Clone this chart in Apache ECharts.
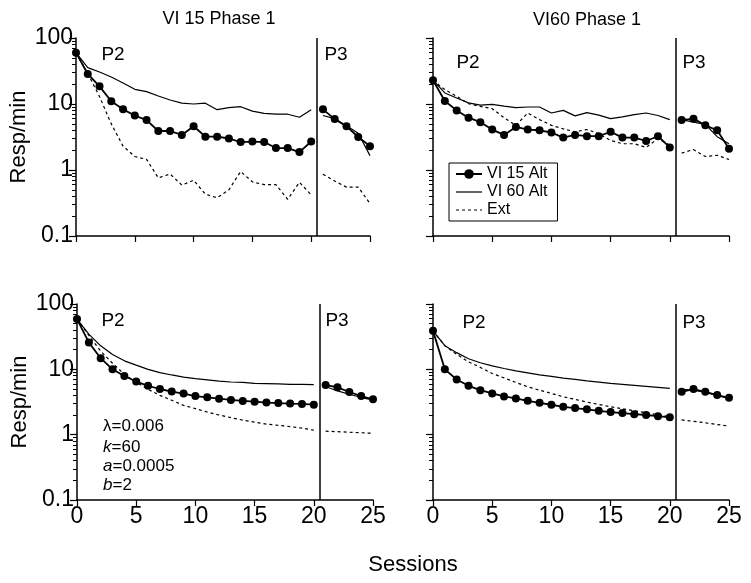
<!DOCTYPE html>
<html>
<head>
<meta charset="utf-8">
<script src="https://cdn.jsdelivr.net/npm/echarts@6/dist/echarts.min.js"></script>
<style>
  html, body { margin: 0; padding: 0; background: #fff; }
  #chart { width: 751px; height: 583px; }
</style>
</head>
<body>
<div id="chart"></div>
<script>
// sessions
var sessionsP2 = [0, 1, 2, 3, 4, 5, 6, 7, 8, 9, 10, 11, 12, 13, 14, 15, 16, 17, 18, 19, 20];
var sessionsP3 = [21, 22, 23, 24, 25];
var phaseBreak = 20.5;
var legendNames = ['VI 15 Alt', 'VI 60 Alt', 'Ext'];
var minorTickValues = [0.2, 0.3, 0.4, 0.5, 0.6, 0.7, 0.8, 0.9, 2, 3, 4, 5, 6, 7, 8, 9, 20, 30, 40, 50, 60, 70, 80, 90];

// VI 15 Phase 1 (observed)
var tlVI15P2 = [60, 28.5, 18.5, 11, 8.3, 6.7, 5.7, 3.9, 3.9, 3.4, 4.6, 3.2, 3.2, 3.0, 2.65, 2.7, 2.65, 2.15, 2.15, 1.87, 2.7];
var tlVI60P2 = [60, 35.6, 30.5, 25.6, 20.8, 16.7, 15.4, 13.2, 11.5, 10.3, 10, 10.3, 8.2, 8.8, 9.1, 7.8, 7.2, 7.0, 7.0, 6.3, 8.2];
var tlExtP2 = [60, 29, 13, 5, 2.3, 1.6, 1.45, 0.76, 0.87, 0.59, 0.7, 0.43, 0.38, 0.5, 0.95, 0.66, 0.6, 0.6, 0.36, 0.65, 0.42];
var tlVI15P3 = [8.3, 5.9, 4.6, 3.16, 2.3];
var tlVI60P3 = [6.7, 6.0, 4.7, 3.6, 1.65];
var tlExtP3 = [0.86, 0.68, 0.55, 0.55, 0.31];

// VI60 Phase 1 (observed)
var trVI15P2 = [22.9, 11.1, 8.0, 6.2, 5.3, 4.1, 3.4, 4.5, 4.1, 4.0, 3.7, 3.1, 3.4, 3.25, 3.25, 3.8, 3.1, 3.1, 2.75, 3.25, 2.2];
var trVI60P2 = [22.9, 14.7, 12.3, 10.4, 9.6, 9.9, 9.3, 8.8, 9.0, 9.0, 7.3, 8.0, 6.6, 7.4, 6.8, 6.0, 6.4, 6.9, 7.3, 6.7, 5.8];
var trExtP2 = [22.9, 16.5, 13.1, 10.1, 9.2, 8.5, 6.2, 4.75, 7.3, 5.8, 4.75, 4.2, 3.8, 4.1, 3.56, 2.8, 2.5, 2.5, 2.2, 3.0, 2.37];
var trVI15P3 = [5.7, 6.0, 4.75, 4.0, 2.1];
var trVI60P3 = [5.8, 5.3, 4.9, 3.2, 2.5];
var trExtP3 = [1.8, 2.04, 1.6, 1.67, 1.44];

// VI 15 model
var blVI15P2 = [58.7, 25.8, 14.8, 10, 7.9, 6.5, 5.6, 5.0, 4.56, 4.25, 3.9, 3.73, 3.56, 3.4, 3.28, 3.2, 3.1, 3.05, 2.99, 2.95, 2.88];
var blVI60P2 = [58.7, 34.5, 22.9, 16.9, 13.5, 11.6, 10.0, 8.9, 8.2, 7.6, 7.2, 6.9, 6.6, 6.4, 6.3, 6.1, 6.05, 5.97, 5.9, 5.9, 5.85];
var blExtP2 = [58.7, 33, 19, 12.4, 8.4, 6.3, 4.95, 4.0, 3.36, 2.81, 2.5, 2.22, 2.0, 1.82, 1.67, 1.56, 1.45, 1.39, 1.33, 1.26, 1.17];
var blVI15P3 = [5.77, 5.3, 4.5, 3.9, 3.48];
var blVI60P3 = [5.45, 4.67, 4.15, 3.7, 3.4];
var blExtP3 = [1.13, 1.11, 1.09, 1.07, 1.05];

// VI60 model
var brVI15P2 = [38.8, 10.0, 7.0, 5.6, 4.8, 4.28, 3.85, 3.59, 3.3, 3.07, 2.87, 2.67, 2.55, 2.44, 2.32, 2.22, 2.14, 2.06, 2.0, 1.92, 1.84];
var brVI60P2 = [38.8, 23, 18, 14.5, 12.6, 11.3, 10.3, 9.5, 8.85, 8.2, 7.8, 7.33, 7.0, 6.67, 6.37, 6.08, 5.87, 5.67, 5.47, 5.28, 5.1];
var brExtP2 = [38.8, 23, 17, 13, 10.7, 8.65, 7.4, 6.3, 5.4, 4.8, 4.28, 3.8, 3.47, 3.15, 2.9, 2.67, 2.49, 2.32, 2.16, 2.01, 1.88];
var brVI15P3 = [4.53, 4.98, 4.53, 4.03, 3.67];
var brVI60P3 = [4.92, 4.8, 4.43, 3.98, 3.59];
var brExtP3 = [1.68, 1.6, 1.52, 1.43, 1.35];

var fontFamily = 'Liberation Sans, Arial, Helvetica, sans-serif';

var panels = [
    {grid: {left: 76, top: 38, width: 294, height: 198}, xLabels: false, yLabels: true,
     lines: [[tlVI15P2, tlVI15P3], [tlVI60P2, tlVI60P3], [tlExtP2, tlExtP3]]},
    {grid: {left: 433, top: 38, width: 296, height: 198}, xLabels: false, yLabels: false,
     lines: [[trVI15P2, trVI15P3], [trVI60P2, trVI60P3], [trExtP2, trExtP3]]},
    {grid: {left: 77, top: 304, width: 296, height: 196}, xLabels: true, yLabels: true,
     lines: [[blVI15P2, blVI15P3], [blVI60P2, blVI60P3], [blExtP2, blExtP3]]},
    {grid: {left: 433, top: 304, width: 296, height: 196}, xLabels: true, yLabels: false,
     lines: [[brVI15P2, brVI15P3], [brVI60P2, brVI60P3], [brExtP2, brExtP3]]}
];

function pairs(xs, ys) {
    return xs.map(function (x, i) { return [x, ys[i]]; });
}

function styleFor(k) {
    if (k === 0) {
        return {symbol: 'circle', symbolSize: 8, z: 5,
                lineStyle: {color: '#000', width: 1.8}, itemStyle: {color: '#000'}};
    }
    if (k === 1) {
        return {symbol: 'none', z: 4, lineStyle: {color: '#000', width: 1.2}, itemStyle: {color: '#000'}};
    }
    return {symbol: 'none', z: 3, lineStyle: {color: '#000', width: 1.2, type: [3, 3]}, itemStyle: {color: '#000'}};
}

var grids = [], xAxes = [], yAxes = [], series = [];

panels.forEach(function (p, idx) {
    grids.push(p.grid);
    xAxes.push({
        gridIndex: idx, type: 'value', min: 0, max: 25, interval: 5,
        axisLine: {lineStyle: {color: '#000', width: 1.5}},
        axisTick: {show: true, length: 6, lineStyle: {color: '#000', width: 1.2}},
        axisLabel: {show: p.xLabels, color: '#000', fontSize: 23, fontFamily: fontFamily, margin: 5},
        splitLine: {show: false}
    });
    yAxes.push({
        gridIndex: idx, type: 'log', logBase: 10, min: 0.1, max: 100, position: 'left',
        axisLine: {show: true, lineStyle: {color: '#000', width: 1.5}},
        axisTick: {show: true, length: 7, lineStyle: {color: '#000', width: 1.2}},
        axisLabel: {show: p.yLabels, color: '#000', fontSize: 23, fontFamily: fontFamily, margin: 3},
        splitLine: {show: false},
        name: p.yLabels ? 'Resp/min' : '',
        nameLocation: 'middle', nameGap: 46,
        nameTextStyle: {color: '#000', fontSize: 22, fontFamily: fontFamily}
    });
    p.yIndex = yAxes.length - 1;
});

// second y axis per panel, only for the minor ticks
panels.forEach(function (p, idx) {
    yAxes.push({
        gridIndex: idx, type: 'log', logBase: 10, min: 0.1, max: 100, position: 'left', offset: 0,
        axisLine: {show: false},
        axisTick: {show: true, length: 4, customValues: minorTickValues, lineStyle: {color: '#000', width: 1}},
        axisLabel: {show: false},
        splitLine: {show: false}
    });
});

panels.forEach(function (p, idx) {
    p.lines.forEach(function (phases, k) {
        var s2 = Object.assign({
            name: legendNames[k], type: 'line', xAxisIndex: idx, yAxisIndex: p.yIndex,
            data: pairs(sessionsP2, phases[0]), clip: false, animation: false
        }, styleFor(k));
        if (k === 0) {
            s2.markLine = {
                silent: true, symbol: 'none', label: {show: false},
                lineStyle: {color: '#000', width: 1.5, type: 'solid'},
                data: [{xAxis: phaseBreak}]
            };
        }
        series.push(s2);
        series.push(Object.assign({
            name: legendNames[k], type: 'line', xAxisIndex: idx, yAxisIndex: p.yIndex,
            data: pairs(sessionsP3, phases[1]), clip: false, animation: false
        }, styleFor(k)));
    });
});

function txt(x, y, text, size, extra) {
    return {
        type: 'text', x: x, y: y, silent: true,
        style: Object.assign({text: text, fill: '#000', fontSize: size, fontFamily: fontFamily,
                              align: 'center', verticalAlign: 'middle'}, extra || {})
    };
}

var paramRich = {i: {fontStyle: 'italic', fontSize: 17, fontFamily: fontFamily, fill: '#000'},
                 n: {fontSize: 17, fontFamily: fontFamily, fill: '#000'}};

var graphics = [
    txt(219, 19, 'VI 15 Phase 1', 18),
    txt(587, 20, 'VI60 Phase 1', 18),
    txt(113, 55, 'P2', 19), txt(336, 55, 'P3', 19),
    txt(468, 63, 'P2', 19), txt(694, 63, 'P3', 19),
    txt(113, 321, 'P2', 19), txt(337, 321, 'P3', 19),
    txt(474, 323, 'P2', 19), txt(694, 323, 'P3', 19),
    txt(413, 565, 'Sessions', 22),
    txt(103, 426, '{n|λ=0.006}', 17, {align: 'left', rich: paramRich}),
    txt(103, 447, '{i|k}{n|=60}', 17, {align: 'left', rich: paramRich}),
    txt(103, 466, '{i|a}{n|=0.0005}', 17, {align: 'left', rich: paramRich}),
    txt(103, 485, '{i|b}{n|=2}', 17, {align: 'left', rich: paramRich})
];

var chart = echarts.init(document.getElementById('chart'));
chart.setOption({
    backgroundColor: '#fff',
    animation: false,
    textStyle: {fontFamily: fontFamily},
    grid: grids,
    xAxis: xAxes,
    yAxis: yAxes,
    legend: {
        data: [
            {name: legendNames[0]},
            {name: legendNames[1], itemStyle: {opacity: 0}, lineStyle: {type: 'solid', width: 1.2}},
            {name: legendNames[2], itemStyle: {opacity: 0}, lineStyle: {type: [3, 3], width: 1.2}}
        ],
        orient: 'vertical',
        left: 449, top: 163,
        borderColor: '#000', borderWidth: 1,
        padding: [3, 10, 3, 6],
        itemGap: 2,
        itemWidth: 26, itemHeight: 12,
        textStyle: {color: '#000', fontSize: 16, fontFamily: fontFamily},
        backgroundColor: '#fff'
    },
    series: series,
    graphic: graphics
});
</script>
</body>
</html>
